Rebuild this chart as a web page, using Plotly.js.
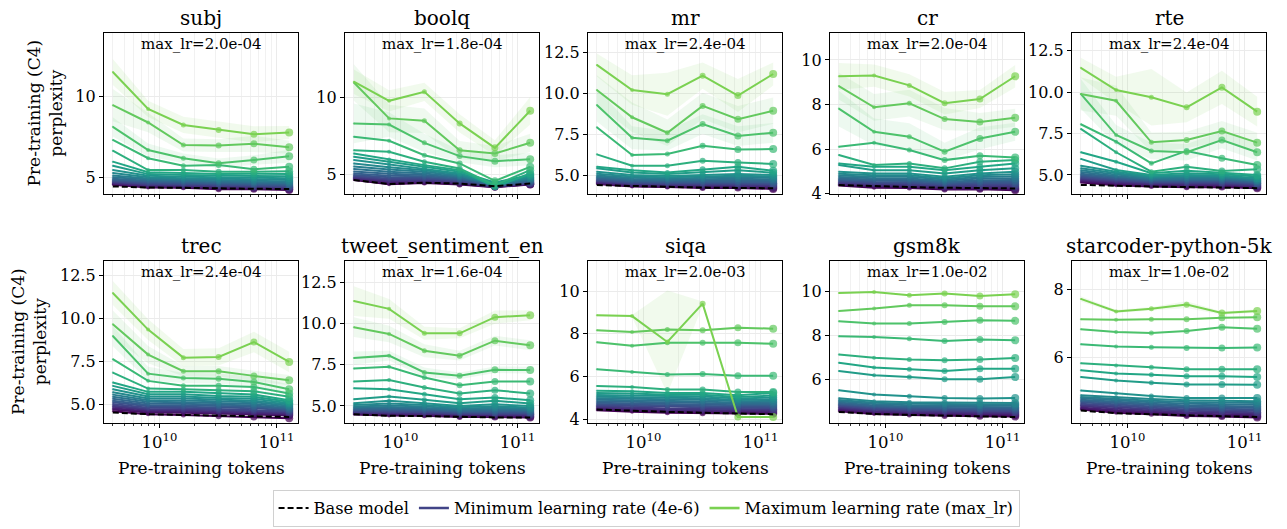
<!DOCTYPE html>
<html><head><meta charset="utf-8">
<script src="https://cdn.plot.ly/plotly-3.0.1.min.js"></script>
<style>body{margin:0;background:#fff}#chart{width:1287px;height:529px}</style>
</head><body><div id="chart"></div>
<script>
// ---------------- DATA ----------------
const tokens = [4e9, 8e9, 1.6e10, 3.2e10, 6.4e10, 1.28e11];
const panelNames = ['subj','boolq','mr','cr','rte','trec','tweet_sentiment_en','siqa','gsm8k','starcoder-python-5k'];
const maxLrLabels = ['2.0e-04','1.8e-04','2.4e-04','2.0e-04','2.4e-04','2.4e-04','1.6e-04','2.0e-03','1.0e-02','1.0e-02'];
const legendNames = ['Base model','Minimum learning rate (4e-6)','Maximum learning rate (max_lr)'];

// lines ordered from minimum learning rate (first) to max_lr (last)
const subj_lines = [
 [4.52,4.35,4.34,4.25,4.25,4.20],[4.55,4.40,4.38,4.30,4.29,4.24],[4.59,4.44,4.42,4.35,4.33,4.28],
 [4.63,4.49,4.46,4.40,4.37,4.32],[4.67,4.54,4.50,4.45,4.42,4.36],[4.72,4.59,4.55,4.50,4.47,4.41],
 [4.77,4.65,4.60,4.55,4.52,4.46],[4.83,4.71,4.66,4.61,4.58,4.52],[4.90,4.77,4.72,4.67,4.64,4.58],
 [4.98,4.84,4.79,4.74,4.71,4.65],[5.10,4.91,4.86,4.81,4.78,4.73],[5.25,4.99,4.93,4.89,4.86,4.82],
 [5.43,5.08,5.02,4.98,4.95,4.92],[5.70,5.18,5.12,5.08,5.06,5.04],[5.95,5.30,5.25,5.18,5.20,5.19],
 [6.63,5.43,5.43,5.33,5.33,5.35],[7.29,6.16,5.70,5.74,5.48,5.64],[8.10,6.67,6.16,5.85,6.05,6.28],
 [9.44,8.37,6.98,6.94,7.05,6.84],[11.49,9.21,8.22,7.91,7.64,7.75]];
const subj_base = [4.42,4.35,4.33,4.29,4.27,4.26];
const subj_std = [[0.6,0.4,0.3,0.3,0.3,0.4],[1.0,0.6,0.4,0.4,0.5,0.4],[0.8,0.5,0.5,0.5,0.5,0.4]];

const boolq_lines = [
 [4.62,4.34,4.42,4.32,4.15,4.32],[4.66,4.40,4.46,4.36,4.16,4.34],[4.71,4.46,4.50,4.40,4.17,4.36],
 [4.76,4.53,4.56,4.45,4.18,4.39],[4.82,4.61,4.63,4.50,4.19,4.42],[4.88,4.70,4.70,4.56,4.21,4.46],
 [4.95,4.80,4.78,4.62,4.23,4.50],[5.05,4.90,4.86,4.69,4.25,4.55],[5.18,5.02,4.95,4.76,4.27,4.60],
 [5.33,5.15,5.05,4.83,4.30,4.66],[5.50,5.30,5.15,4.90,4.33,4.73],[5.70,5.45,5.25,4.97,4.36,4.80],
 [5.92,5.62,5.35,5.05,4.40,4.88],[6.14,5.80,5.45,5.15,4.45,4.95],[6.35,5.96,5.59,5.26,4.17,5.04],
 [6.57,6.46,5.81,5.37,4.28,5.26],[7.45,7.18,6.24,5.70,4.56,5.48],[8.32,8.25,7.05,6.18,5.85,5.98],
 [11.00,8.65,8.49,6.57,6.35,7.05],[11.05,9.80,10.39,8.32,6.72,9.15]];
const boolq_base = [4.61,4.36,4.44,4.38,4.21,4.38];
const boolq_std = [[1.3,0.8,0.6,0.4,0.4,0.4],[1.2,0.9,0.8,0.6,0.5,0.6],[0.8,0.7,0.6,0.6,0.5,0.9]];

const mr_lines = [
 [4.50,4.34,4.31,4.25,4.26,4.20],[4.54,4.38,4.35,4.30,4.31,4.25],[4.58,4.42,4.39,4.35,4.36,4.31],
 [4.62,4.46,4.43,4.40,4.41,4.37],[4.66,4.51,4.48,4.46,4.47,4.43],[4.71,4.56,4.53,4.52,4.53,4.49],
 [4.76,4.61,4.58,4.58,4.59,4.55],[4.81,4.67,4.64,4.64,4.66,4.62],[4.87,4.73,4.70,4.71,4.73,4.69],
 [4.94,4.80,4.76,4.78,4.81,4.77],[5.02,4.87,4.83,4.86,4.90,4.86],[5.12,4.95,4.90,4.95,5.00,4.95],
 [5.24,5.04,4.98,5.04,5.10,5.04],[5.45,5.20,5.10,5.20,5.34,5.18],[5.55,5.34,5.20,5.39,5.55,5.30],
 [6.30,5.61,5.61,5.91,5.81,5.71],[7.94,6.26,6.32,6.82,6.60,6.62],[9.30,7.31,7.13,8.14,7.41,7.61],
 [10.21,8.55,7.61,9.24,8.43,8.95],[11.73,10.21,9.95,11.08,9.87,11.18]];
const mr_base = [4.43,4.36,4.33,4.28,4.26,4.24];
const mr_std = [[1.0,0.7,0.6,0.6,0.6,0.6],[0.9,0.9,0.8,0.8,0.8,0.8],[0.7,0.9,1.3,0.8,1.0,0.7]];

const cr_lines = [
 [4.37,4.27,4.26,4.19,4.20,4.16],[4.40,4.31,4.30,4.23,4.24,4.20],[4.43,4.35,4.34,4.27,4.28,4.25],
 [4.47,4.39,4.38,4.31,4.33,4.30],[4.51,4.43,4.42,4.35,4.38,4.36],[4.55,4.48,4.47,4.39,4.43,4.42],
 [4.59,4.53,4.52,4.43,4.49,4.48],[4.64,4.58,4.57,4.48,4.55,4.55],[4.69,4.64,4.63,4.53,4.61,4.62],
 [4.75,4.70,4.69,4.58,4.68,4.70],[4.82,4.76,4.76,4.64,4.75,4.79],[4.90,4.83,4.83,4.70,4.83,4.88],
 [4.99,4.91,4.91,4.76,4.91,4.99],[5.29,5.06,5.06,4.91,5.06,5.14],[5.36,5.21,5.21,5.06,5.21,5.36],
 [5.74,5.29,5.36,5.14,5.44,5.51],[6.11,6.29,5.96,5.51,5.71,5.63],[7.82,6.78,6.56,5.89,6.48,6.78],
 [8.83,7.88,8.06,7.35,7.22,7.41],[9.27,9.30,8.86,8.06,8.25,9.27]];
const cr_base = [4.39,4.33,4.30,4.27,4.25,4.24];
const cr_std = [[0.8,0.6,0.6,0.4,0.5,0.4],[0.6,0.6,0.6,0.5,0.4,0.4],[0.6,0.5,0.5,0.5,0.4,0.5]];

const rte_lines = [
 [4.54,4.38,4.30,4.25,4.27,4.19],[4.60,4.44,4.36,4.31,4.33,4.25],[4.66,4.50,4.41,4.37,4.39,4.30],
 [4.72,4.56,4.46,4.43,4.44,4.35],[4.78,4.62,4.51,4.49,4.49,4.40],[4.85,4.68,4.56,4.55,4.55,4.45],
 [4.92,4.74,4.61,4.61,4.60,4.50],[5.00,4.80,4.66,4.67,4.66,4.55],[5.08,4.87,4.71,4.73,4.72,4.60],
 [5.18,4.94,4.76,4.79,4.78,4.65],[5.28,5.02,4.82,4.86,4.84,4.70],[5.40,5.10,4.88,4.93,4.90,4.75],
 [5.56,5.20,4.94,5.00,4.96,4.80],[5.97,5.30,5.00,5.10,5.04,4.90],[6.37,5.80,5.10,5.26,5.14,5.00],
 [7.78,6.37,5.20,5.50,5.24,5.34],[8.06,7.01,5.70,6.45,6.01,5.60],[9.89,7.41,6.45,6.37,7.11,6.37],
 [9.89,9.48,6.97,7.11,7.65,6.95],[11.47,10.13,9.69,9.08,10.29,8.82]];
const rte_base = [4.40,4.33,4.30,4.27,4.23,4.20];
const rte_std = [[0.9,0.6,0.5,0.5,0.5,0.5],[1.0,0.9,0.6,0.5,0.6,0.6],[0.6,0.8,1.7,0.9,1.0,0.9]];

const trec_lines = [
 [4.60,4.42,4.37,4.30,4.26,4.18],[4.69,4.52,4.50,4.44,4.41,4.35],[4.77,4.59,4.57,4.51,4.48,4.41],
 [4.85,4.66,4.64,4.58,4.55,4.47],[4.93,4.73,4.71,4.65,4.62,4.53],[5.02,4.80,4.78,4.72,4.69,4.59],
 [5.11,4.88,4.86,4.80,4.77,4.65],[5.21,4.96,4.94,4.88,4.85,4.71],[5.32,5.05,5.03,4.96,4.93,4.77],
 [5.44,5.14,5.12,5.05,5.02,4.84],[5.56,5.24,5.22,5.15,5.11,4.91],[5.70,5.34,5.33,5.25,5.21,4.98],
 [5.87,5.45,5.45,5.36,5.32,5.06],[6.07,5.58,5.58,5.48,5.43,5.14],[6.26,5.72,5.72,5.62,5.56,5.23],
 [6.84,5.91,5.87,5.81,5.76,5.43],[7.62,6.36,6.07,6.07,6.01,5.62],[8.97,6.78,6.53,6.49,6.30,5.87],
 [9.65,7.89,6.92,6.92,6.65,6.40],[11.47,9.34,7.71,7.75,8.62,7.46]];
const trec_base = [4.52,4.42,4.38,4.33,4.28,4.26];
const trec_std = [[0.6,0.4,0.3,0.3,0.3,0.3],[0.8,0.5,0.3,0.3,0.3,0.3],[0.7,0.6,0.5,0.5,0.6,0.6]];

const tweet_lines = [
 [4.47,4.41,4.40,4.33,4.32,4.29],[4.51,4.46,4.44,4.37,4.37,4.34],[4.55,4.51,4.48,4.42,4.42,4.39],
 [4.59,4.56,4.53,4.46,4.47,4.44],[4.63,4.61,4.58,4.51,4.52,4.49],[4.68,4.67,4.63,4.56,4.57,4.54],
 [4.73,4.73,4.69,4.61,4.62,4.59],[4.78,4.79,4.75,4.66,4.68,4.65],[4.84,4.86,4.81,4.72,4.74,4.71],
 [4.90,4.94,4.88,4.78,4.81,4.77],[4.97,5.03,4.96,4.85,4.89,4.84],[5.05,5.15,5.05,4.92,4.98,4.91],
 [5.16,5.31,5.16,5.00,5.10,5.00],[5.41,5.57,5.37,5.16,5.31,5.14],[6.08,6.02,5.71,5.41,5.51,5.35],
 [6.49,6.57,6.12,5.75,5.96,5.75],[7.28,7.38,6.73,6.26,6.49,6.49],[7.91,8.06,7.04,6.83,7.20,7.18],
 [9.79,9.38,8.36,8.06,8.97,8.69],[11.38,10.91,9.42,9.42,10.40,10.52]];
const tweet_base = [4.49,4.40,4.38,4.33,4.30,4.29];
const tweet_std = [[0.4,0.3,0.3,0.2,0.2,0.2],[0.6,0.5,0.4,0.3,0.3,0.3],[0.9,0.6,0.4,0.3,0.4,0.3]];

const siqa_lines = [
 [4.44,4.36,4.32,4.30,4.29,4.27],[4.48,4.41,4.37,4.35,4.34,4.32],[4.52,4.46,4.42,4.40,4.39,4.37],
 [4.57,4.51,4.47,4.45,4.44,4.42],[4.62,4.57,4.52,4.51,4.49,4.48],[4.67,4.63,4.58,4.57,4.55,4.54],
 [4.73,4.69,4.64,4.63,4.61,4.60],[4.79,4.76,4.71,4.70,4.67,4.66],[4.85,4.83,4.78,4.77,4.73,4.73],
 [4.92,4.90,4.85,4.84,4.79,4.80],[4.99,4.97,4.92,4.92,4.85,4.87],[5.07,5.05,5.00,5.00,4.91,4.95],
 [5.15,5.13,5.08,5.08,4.98,5.03],[5.24,5.22,5.16,5.16,5.05,5.12],[5.34,5.32,5.24,5.24,5.13,5.24],
 [5.57,5.52,5.40,5.40,5.29,5.29],[6.35,6.22,6.10,6.13,6.05,6.04],[7.61,7.44,7.58,7.58,7.58,7.54],
 [8.17,8.09,8.20,8.17,8.29,8.24],[8.87,8.83,7.62,9.41,4.12,4.12]];
const siqa_base = [4.47,4.40,4.36,4.32,4.28,4.25];
const siqa_std = [[0.05,0.05,0.05,0.05,0.05,0.05],[0.05,0.05,0.05,0.05,0.05,0.05],[0.05,0.05,2.4,0.1,0.05,0.05]];

const gsm8k_lines = [
 [4.56,4.44,4.39,4.35,4.34,4.32],[4.61,4.49,4.44,4.40,4.39,4.38],[4.66,4.54,4.49,4.45,4.44,4.43],
 [4.71,4.58,4.53,4.50,4.49,4.48],[4.76,4.63,4.58,4.55,4.54,4.53],[4.81,4.68,4.63,4.60,4.59,4.58],
 [4.86,4.73,4.68,4.65,4.64,4.63],[4.91,4.78,4.73,4.70,4.69,4.69],[4.96,4.83,4.78,4.76,4.75,4.75],
 [5.02,4.89,4.84,4.82,4.81,4.81],[5.08,4.95,4.90,4.88,4.87,4.87],[5.15,5.02,4.97,4.95,4.94,4.94],
 [5.52,5.32,5.24,5.17,5.14,5.17],[6.39,6.20,6.12,6.02,6.02,6.12],[6.77,6.55,6.47,6.39,6.50,6.50],
 [7.14,7.00,6.91,6.88,6.91,6.98],[7.97,7.94,7.86,7.76,7.82,7.79],[8.65,8.55,8.55,8.62,8.70,8.67],
 [9.12,9.23,9.38,9.38,9.33,9.33],[9.94,9.98,9.83,9.91,9.80,9.88]];
const gsm8k_base = [4.53,4.44,4.40,4.36,4.33,4.30];
const gsm8k_std = [[0.03,0.03,0.03,0.03,0.03,0.03],[0.03,0.03,0.03,0.03,0.03,0.03],[0.03,0.03,0.03,0.03,0.03,0.03]];

const starcoder_lines = [
 [4.45,4.35,4.31,4.26,4.24,4.21],[4.48,4.39,4.35,4.29,4.27,4.25],[4.51,4.43,4.38,4.33,4.31,4.29],
 [4.55,4.47,4.42,4.37,4.35,4.33],[4.58,4.51,4.46,4.41,4.39,4.37],[4.62,4.55,4.50,4.45,4.43,4.41],
 [4.66,4.59,4.54,4.49,4.47,4.45],[4.70,4.63,4.58,4.53,4.51,4.49],[4.74,4.67,4.62,4.57,4.55,4.54],
 [4.78,4.71,4.66,4.62,4.60,4.59],[4.82,4.76,4.71,4.67,4.65,4.64],[4.87,4.81,4.76,4.72,4.70,4.69],
 [5.01,4.92,4.85,4.79,4.79,4.79],[5.41,5.31,5.24,5.19,5.19,5.18],[5.61,5.51,5.48,5.43,5.43,5.41],
 [5.82,5.75,5.70,5.64,5.64,5.64],[6.38,6.31,6.29,6.27,6.27,6.28],[6.82,6.74,6.71,6.77,6.88,6.84],
 [7.12,7.10,7.12,7.12,7.16,7.18],[7.72,7.35,7.43,7.55,7.30,7.36]];
const starcoder_base = [4.42,4.34,4.31,4.27,4.25,4.23];
const starcoder_std = [[0.02,0.02,0.02,0.02,0.02,0.02],[0.02,0.02,0.02,0.02,0.02,0.02],[0.08,0.05,0.05,0.1,0.05,0.05]];

const allLines = [subj_lines,boolq_lines,mr_lines,cr_lines,rte_lines,trec_lines,tweet_lines,siqa_lines,gsm8k_lines,starcoder_lines];
const allBase = [subj_base,boolq_base,mr_base,cr_base,rte_base,trec_base,tweet_base,siqa_base,gsm8k_base,starcoder_base];
const allStd = [subj_std,boolq_std,mr_std,cr_std,rte_std,trec_std,tweet_std,siqa_std,gsm8k_std,starcoder_std];

const yTicks = [[5,10],[5,10],[5,7.5,10,12.5],[4,6,8,10],[5,7.5,10,12.5],[5,7.5,10,12.5],[5,7.5,10,12.5],[4,6,8,10],[6,8,10],[6,8]];
const yTickText = [['5','10'],['5','10'],['5.0','7.5','10.0','12.5'],['4','6','8','10'],['5.0','7.5','10.0','12.5'],['5.0','7.5','10.0','12.5'],['5.0','7.5','10.0','12.5'],['4','6','8','10'],['6','8','10'],['6','8']];
const xTickVals = [1e10, 1e11];
const xTickText = ['10<sup>10</sup>','10<sup>11</sup>'];

// ---------------- STYLE / LAYOUT ----------------
const yRanges = [[3.95,13.9],[3.7,14.24],[3.89,13.67],[3.99,11.21],[3.85,13.57],[3.91,13.33],[3.96,13.82],[3.84,11.4],[4.03,11.39],[4.05,8.84]];
const W = 1287, H = 529;
const colLeft = [104,345,588,830,1072], colW = 194;
const rowTop = [33,261], rowH = [161,162];
const yTitleX = [45, 29];
const FONT = 'DejaVu Serif, serif';
const markerSizes = [2,4,5,6,7,8];

const VIR = [[68,1,84],[72,36,117],[65,68,135],[53,95,141],[42,120,142],[33,145,140],[34,168,132],[68,191,112],[122,209,81],[189,223,38],[253,231,37]];
function viridis(t){ const s=t*10, i=Math.min(9,Math.floor(s)), f=s-i; const a=VIR[i], b=VIR[i+1];
  return [0,1,2].map(k=>Math.round(a[k]+(b[k]-a[k])*f)); }
const rgb = c => `rgb(${c[0]},${c[1]},${c[2]})`;
const rgba = (c,a) => `rgba(${c[0]},${c[1]},${c[2]},${a})`;

const traces = [];
const layout = {width:W,height:H,margin:{l:0,r:0,t:0,b:0},paper_bgcolor:'#fff',plot_bgcolor:'#fff',
  showlegend:true, font:{family:FONT,color:'#000'}, annotations:[],
  legend:{orientation:'h',x:0.502,xanchor:'center',y:2/H,yanchor:'bottom',bordercolor:'#d0d0d0',borderwidth:1,
    font:{family:FONT,size:16.3},bgcolor:'#fff',itemwidth:30,tracegroupgap:0}};

const minorX = [];
[1e9,1e10,1e11].forEach(d=>{for(let m=2;m<=9;m++) minorX.push(m*d);});

for (let p=0;p<10;p++){
  const r = Math.floor(p/5), c = p%5;
  const ax = p===0?'':String(p+1);
  const L = colLeft[c], T = rowTop[r], Hh = rowH[r];
  const xa = {type:'log', range:[Math.log10(tokens[0])-0.0753, Math.log10(tokens[5])+0.0753],
    domain:[L/W,(L+colW)/W], anchor:'y'+ax, tickmode:'array', tickvals:xTickVals, ticktext:xTickText, showticklabels:r===1,
    ticks:'outside', ticklen:4, tickwidth:1, tickcolor:'#000', showline:true, mirror:true, linecolor:'#000', linewidth:1.2,
    showgrid:true, gridcolor:'#ebebeb', gridwidth:1, zeroline:false, tickfont:{family:FONT,size:16.5},
    minor:{tickmode:'array',tickvals:minorX,ticks:'outside',ticklen:2,tickcolor:'#000',tickwidth:0.8,showgrid:true,gridcolor:'#f1f1f1',gridwidth:1}};
  layout['xaxis'+ax] = xa;
  layout['yaxis'+ax] = {range:yRanges[p], domain:[1-(T+Hh)/H,1-T/H], anchor:'x'+ax, tickmode:'array',
    tickvals:yTicks[p], ticktext:yTickText[p], ticks:'outside', ticklen:4, tickwidth:1, tickcolor:'#000',
    showline:true, mirror:true, linecolor:'#000', linewidth:1.2, showgrid:true, gridcolor:'#ebebeb', zeroline:false,
    tickfont:{family:FONT,size:16}};

  const lines = allLines[p], n = lines.length, std = allStd[p];
  // uncertainty bands for the three highest learning rates
  for (let k=0;k<3;k++){
    const idx = n-3+k, col = viridis(0.8*idx/(n-1)), v = lines[idx], s = std[k];
    const up = v.map((y,i)=>y+s[i]), lo = v.map((y,i)=>y-s[i]);
    traces.push({x:tokens.concat(tokens.slice().reverse()), y:up.concat(lo.slice().reverse()), xaxis:'x'+ax, yaxis:'y'+ax,
      mode:'lines', fill:'toself', fillcolor:rgba(col,0.1), line:{width:0,color:rgba(col,0)}, showlegend:false, hoverinfo:'skip'});
  }
  for (let i=0;i<n;i++){
    const col = rgb(viridis(0.8*i/(n-1)));
    traces.push({x:tokens, y:lines[i], xaxis:'x'+ax, yaxis:'y'+ax, mode:'lines+markers',
      line:{color:col,width:2}, marker:{color:col,size:markerSizes,line:{width:0}}, showlegend:false});
  }
  traces.push({x:tokens, y:allBase[p], xaxis:'x'+ax, yaxis:'y'+ax, mode:'lines',
    line:{color:'#000',width:2,dash:'6px,3px'}, showlegend:false});

  const cx = (L+colW/2)/W;
  layout.annotations.push({text:panelNames[p], x:cx, y:1-(T-15)/H, xref:'paper', yref:'paper', xanchor:'center', yanchor:'middle',
    showarrow:false, font:{family:FONT,size:20}});
  layout.annotations.push({text:'max_lr='+maxLrLabels[p], x:cx, y:1-(T+11)/H, xref:'paper', yref:'paper', xanchor:'center', yanchor:'middle',
    showarrow:false, font:{family:FONT,size:15}});
  if (c===0){
    layout.annotations.push({text:'Pre-training (C4)<br>perplexity', x:yTitleX[r]/W, y:1-(T+Hh/2)/H, xref:'paper', yref:'paper',
      xanchor:'center', yanchor:'middle', textangle:-90, showarrow:false, font:{family:FONT,size:17}});
  }
  if (r===1){
    layout.annotations.push({text:'Pre-training tokens', x:cx, y:1-468/H, xref:'paper', yref:'paper', xanchor:'center', yanchor:'middle',
      showarrow:false, font:{family:FONT,size:17}});
  }
}
// legend entries
traces.push({x:[null],y:[null],mode:'lines',name:legendNames[0],line:{color:'#000',width:2,dash:'6px,3px'},showlegend:true});
traces.push({x:[null],y:[null],mode:'lines',name:legendNames[1],line:{color:rgb(viridis(0.2)),width:2.5},showlegend:true});
traces.push({x:[null],y:[null],mode:'lines',name:legendNames[2],line:{color:rgb(viridis(0.8)),width:2.5},showlegend:true});

Plotly.newPlot('chart', traces, layout, {staticPlot:true});
</script></body></html>
